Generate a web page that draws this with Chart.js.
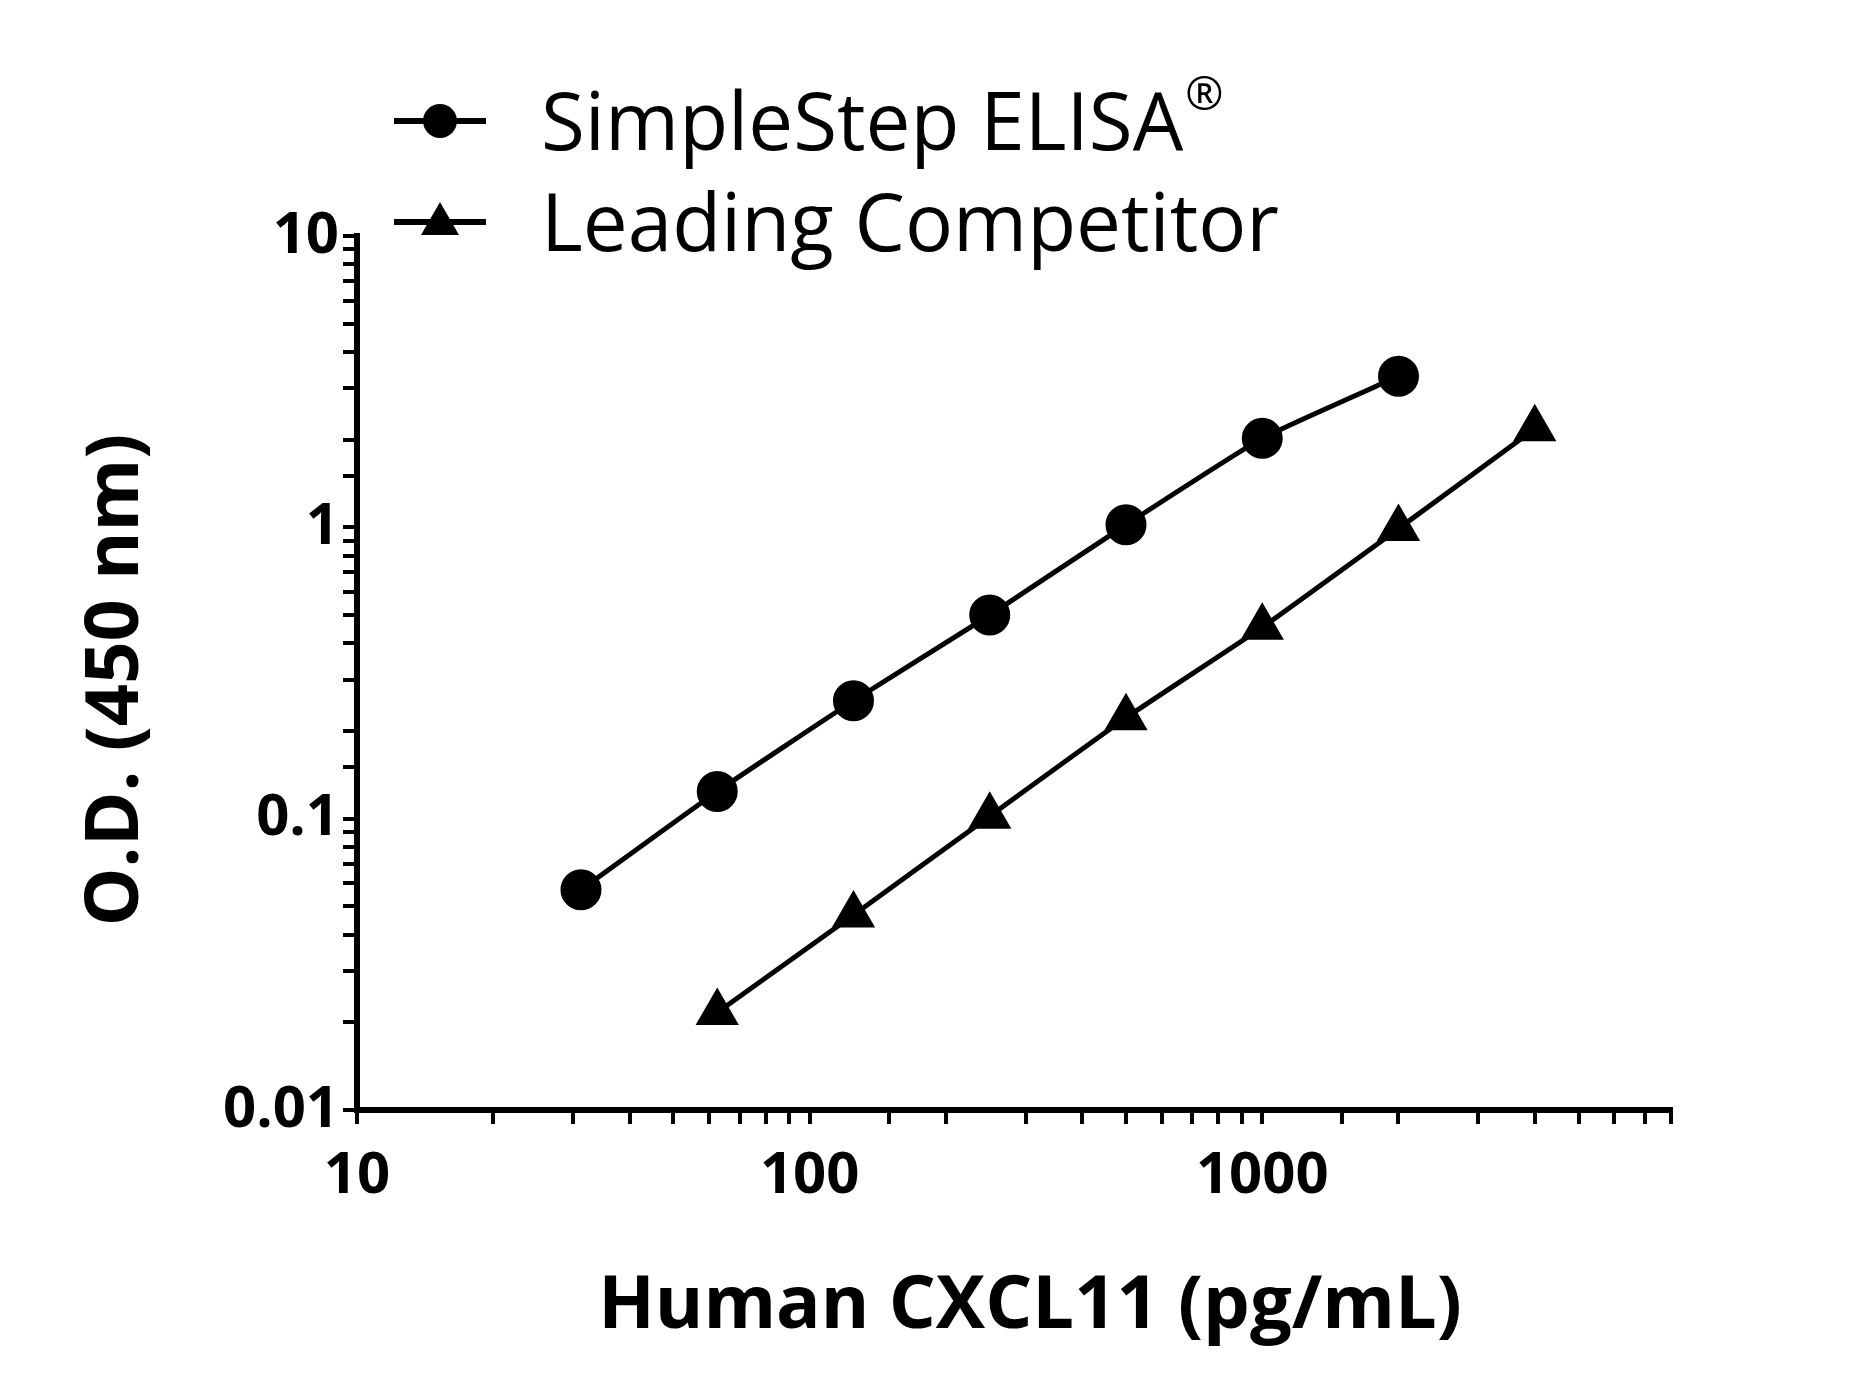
<!DOCTYPE html>
<html><head><meta charset="utf-8">
<script src="https://cdn.jsdelivr.net/npm/chart.js@4"></script>
<style>html,body{margin:0;background:#fff}#w{width:1871px;height:1390px}</style>
</head><body><div id="w"><canvas id="c"></canvas></div>
<script>
const seriesNames = ["SimpleStep ELISA\u00AE", "Leading Competitor"];
const simpleX = [31.25, 62.5, 125, 250, 500, 1000, 2000];
const simpleY = [0.057, 0.124, 0.254, 0.50, 1.02, 2.02, 3.3];
const compX = [62.5, 125, 250, 500, 1000, 2000, 4000];
const compY = [0.0216, 0.0467, 0.102, 0.222, 0.454, 0.99, 2.18];
const xLabels = [10, 100, 1000];
const yLabels = [0.01, 0.1, 1, 10];
const xTitle = "Human CXCL11 (pg/mL)";
const yTitle = "O.D. (450 nm)";

const pts = (xs, ys) => xs.map((x, i) => ({x, y: ys[i]}));
const FONT = "'Open Sans', sans-serif";

const deco = {
  id: 'deco',
  afterDraw(chart) {
    const ctx = chart.ctx;
    ctx.save();
    ctx.fillStyle = '#000';
    ctx.font = "bold 74px " + FONT;
    ctx.textAlign = 'center'; ctx.textBaseline = 'middle';
    ctx.fillText(xTitle, 1030, 1307);
    ctx.translate(117, 680);
    ctx.rotate(-Math.PI / 2);
    ctx.fillText(yTitle, 0, 0);
    ctx.restore();
    const items = [{y: 121, s: 'circle'}, {y: 222, s: 'triangle'}];
    items.forEach((it, i) => {
      ctx.save();
      ctx.strokeStyle = '#000'; ctx.lineWidth = 6;
      ctx.beginPath(); ctx.moveTo(394, it.y); ctx.lineTo(486, it.y); ctx.stroke();
      ctx.fillStyle = '#000';
      ctx.beginPath();
      if (it.s === 'circle') { ctx.arc(440, it.y, 17, 0, Math.PI * 2); }
      else { ctx.moveTo(440, it.y - 20); ctx.lineTo(459, it.y + 13); ctx.lineTo(421, it.y + 13); ctx.closePath(); }
      ctx.fill();
      ctx.font = "80px " + FONT;
      ctx.textAlign = 'left'; ctx.textBaseline = 'middle';
      if (i === 0) {
        const t = "SimpleStep ELISA";
        ctx.fillText(t, 541, it.y + 6);
        const w = ctx.measureText(t).width;
        ctx.font = "46px " + FONT;
        ctx.fillText("\u00AE", 541 + w + 2, it.y - 24);
      } else ctx.fillText(seriesNames[1], 541, it.y + 6);
      ctx.restore();
    });
  }
};

new Chart(document.getElementById('c'), {
  type: 'line',
  data: { datasets: [
    { label: seriesNames[0], data: pts(simpleX, simpleY), borderColor: '#000', backgroundColor: '#000',
      borderWidth: 5, pointStyle: 'circle', pointRadius: 18, tension: 0.15 },
    { label: seriesNames[1], data: pts(compX, compY), borderColor: '#000', backgroundColor: '#000',
      borderWidth: 5, pointStyle: 'triangle', pointRadius: 20, tension: 0.15 }
  ]},
  options: {
    responsive: true, maintainAspectRatio: false, animation: false,
    layout: { padding: { top: 236, right: 200, left: 0, bottom: 0 } },
    plugins: { legend: { display: false }, tooltip: { enabled: false } },
    scales: {
      x: { type: 'logarithmic', min: 10, max: 8000,
        afterFit: s => { s.height = 280; },
        border: { color: '#000', width: 6 },
        grid: { drawOnChartArea: false, color: '#000', lineWidth: 4, tickLength: 14 },
        ticks: { color: '#000', font: { family: FONT, weight: 'bold', size: 58 }, padding: 18, autoSkip: false, maxRotation: 0,
          callback: v => xLabels.includes(v) ? String(v) : '' } },
      y: { type: 'logarithmic', min: 0.01, max: 10,
        afterFit: s => { s.width = 357; },
        border: { color: '#000', width: 6 },
        grid: { drawOnChartArea: false, color: '#000', lineWidth: 4, tickLength: 14 },
        ticks: { color: '#000', font: { family: FONT, weight: 'bold', size: 58 }, padding: 4, autoSkip: false,
          callback: v => yLabels.some(l => Math.abs(l - v) < l * 1e-6) ? String(v) : '' } }
    }
  },
  plugins: [deco]
});
</script></body></html>
